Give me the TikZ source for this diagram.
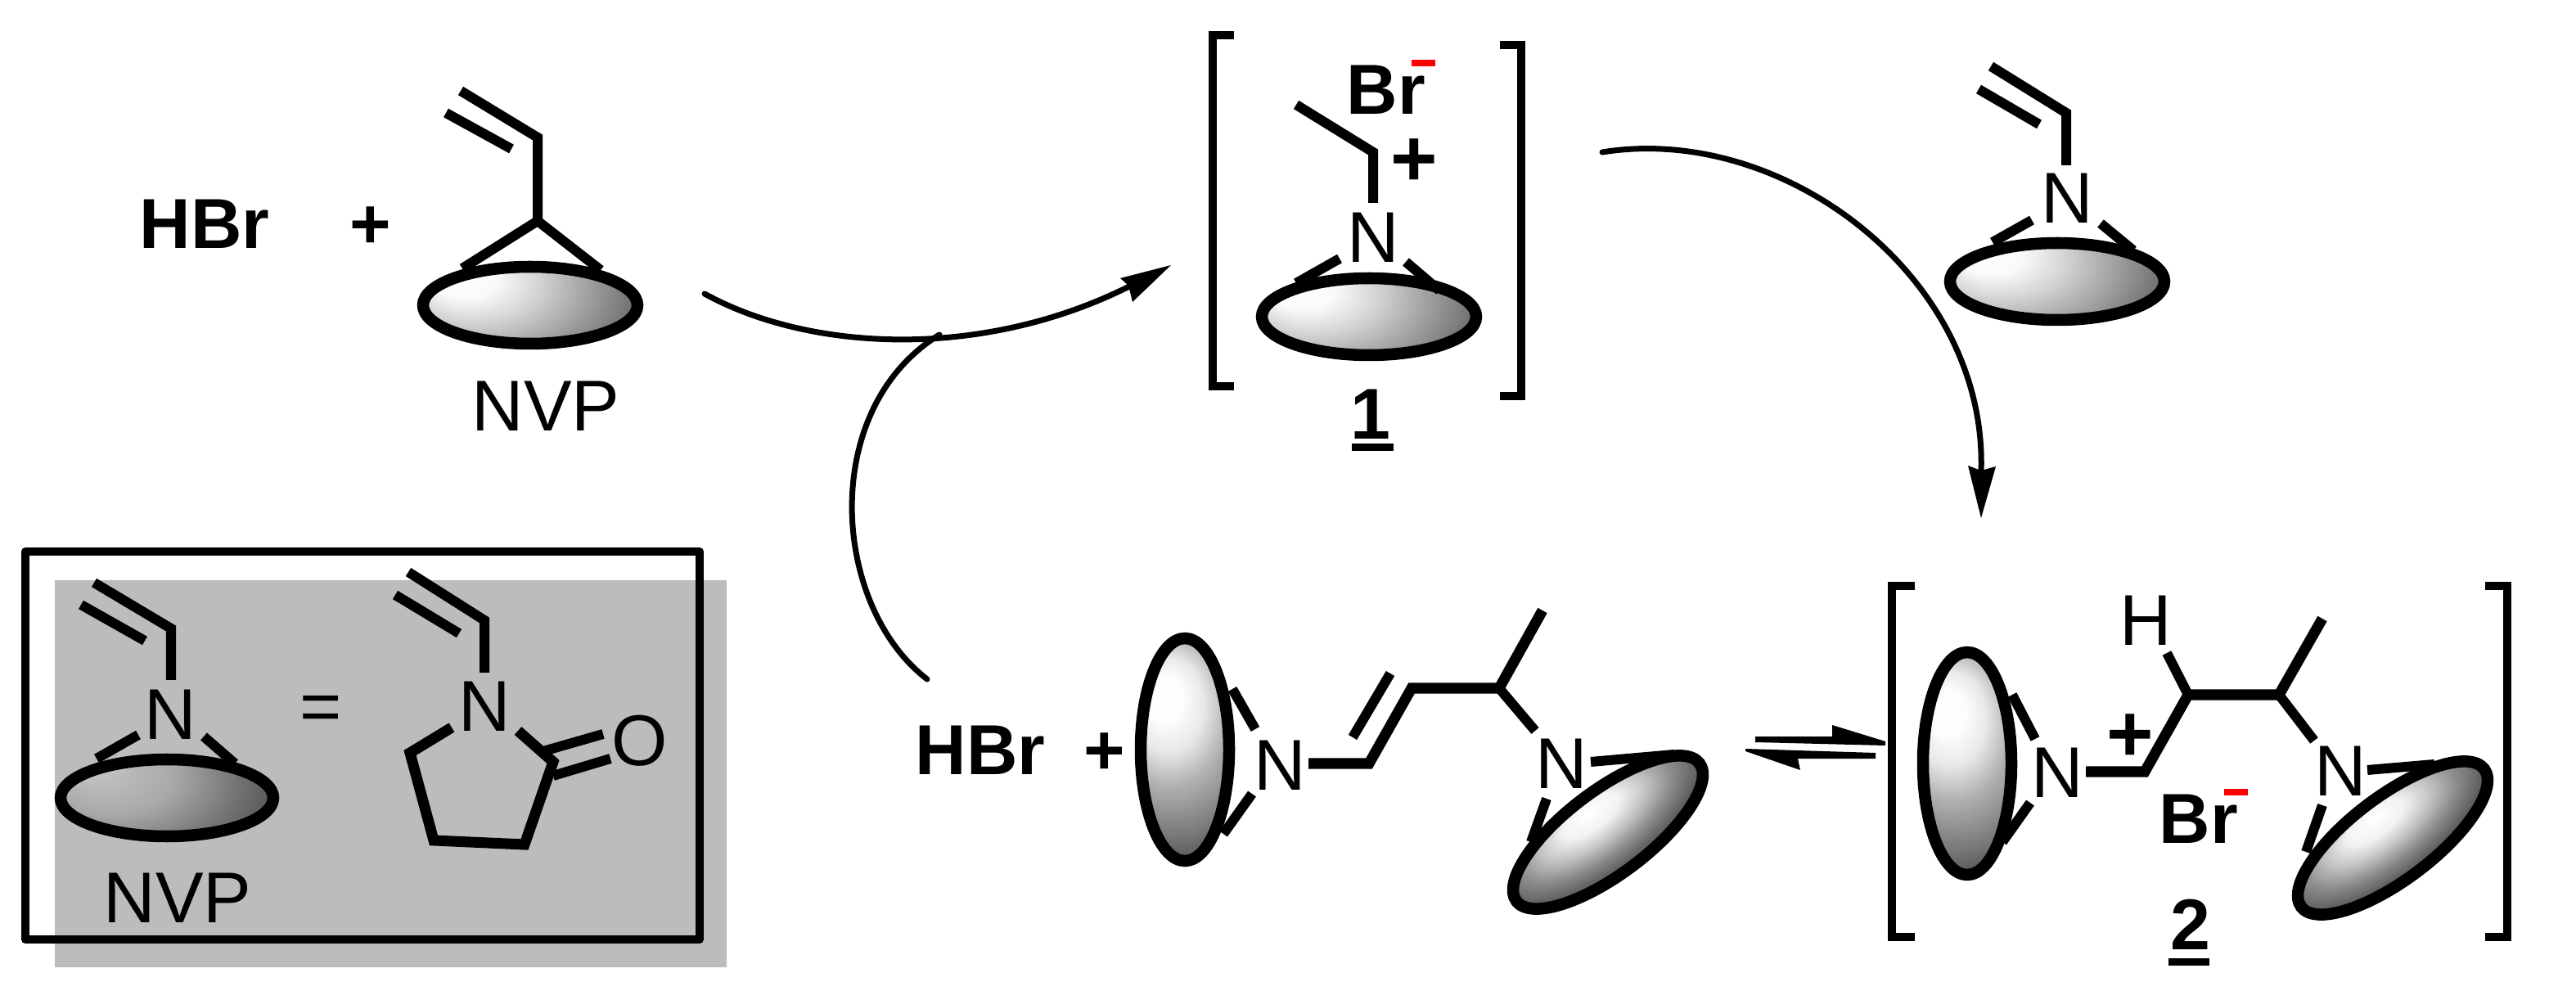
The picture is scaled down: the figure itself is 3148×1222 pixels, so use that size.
\documentclass[tikz,border=0pt]{standalone}
\usepackage{fontspec}
\setmainfont{Liberation Sans}
\newcommand{\pxfont}[1]{\fontsize{#1}{#1}\selectfont}
\definecolor{dither}{HTML}{BCBCBC}
\pgfdeclareradialshading{blobh}{\pgfpoint{-17bp}{11bp}}{color(0bp)=(white); color(7bp)=(white!98!black); color(14bp)=(white!83!black); color(25bp)=(white!56!black); color(33bp)=(white!36!black); color(39bp)=(white!17!black); color(50bp)=(white!12!black)}
\pgfdeclareradialshading{blobv}{\pgfpoint{-6bp}{12bp}}{color(0bp)=(white); color(5bp)=(white!99!black); color(10bp)=(white!91!black); color(16bp)=(white!69!black); color(24bp)=(white!48!black); color(31bp)=(white!28!black); color(36bp)=(white!17!black); color(50bp)=(white!12!black)}
\pgfdeclareradialshading{blobt}{\pgfpoint{-1bp}{14bp}}{color(0bp)=(white); color(7bp)=(white!95!black); color(13bp)=(white!76!black); color(19bp)=(white!54!black); color(26bp)=(white!33!black); color(32bp)=(white!18!black); color(50bp)=(white!12!black)}
\pgfdeclareradialshading{blobg}{\pgfpoint{-17bp}{11bp}}{color(0bp)=(white!78!black); color(14bp)=(white!66!black); color(25bp)=(white!44!black); color(33bp)=(white!30!black); color(39bp)=(white!17!black); color(50bp)=(white!12!black)}
% centre x, centre y, semi-axis a, semi-axis b (centreline, px), angle, shading, rectangle factors x and y
\newcommand{\blob}[8]{%
  \begin{scope}[transform canvas={shift={(#1,#2)},rotate=#5}]
    \begin{scope}
      \clip (0,0) ellipse [x radius=#3*0.01cm, y radius=#4*0.01cm];
      \shade[shading=#6] (-#7*#3,-#8*#4) rectangle (#7*#3,#8*#4);
    \end{scope}
    \draw[blobrim] (0,0) ellipse [x radius=#3*0.01cm, y radius=#4*0.01cm];
  \end{scope}}
\tikzset{
  bond/.style={line width=0.12cm, line cap=butt, line join=miter},
  chain/.style={line width=0.13cm, line cap=butt, line join=miter},
  blobrim/.style={line width=0.145cm},
  bracket/.style={line width=0.095cm, line join=miter},
  curved/.style={line width=0.07cm, line cap=round},
  atom/.style={inner sep=0pt, anchor=base, font=\pxfont{25}},
  boldatom/.style={inner sep=0pt, anchor=base, font=\pxfont{24.6}\bfseries},
  bigplus/.style={inner sep=0pt, anchor=base, font=\pxfont{28}\bfseries},
  numeral/.style={inner sep=0pt, anchor=base, font=\pxfont{25}\bfseries},
}
\begin{document}
\begin{tikzpicture}[x=0.01cm,y=-0.01cm]
\useasboundingbox (0,0) rectangle (3148,1222);
\fill[white] (0,0) rectangle (3148,1222);

% inset
\fill[dither] (67,709) rectangle (888,1182);
\draw[line width=0.10cm, line join=round] (31,674) rectangle (855,1148);
\blob{204}{975}{130}{47}{0}{blobg}{1.06}{1.83}
\draw[bond] (115,712) -- (209,768) -- (209,831);
\draw[bond] (99,739) -- (177,783);
\draw[bond] (169,898) -- (118,927);
\draw[bond] (249,900) -- (287,933);
\node[atom] (nA) at (208,903) {N};
\node[atom] (nvpA) at (217,1127) {NVP};
\node[atom] (eq) at (392,893) {=};
\draw[bond] (499,699) -- (592,758) -- (592,822);
\draw[bond] (483,727) -- (561,774);
\node[atom] (nB) at (592,893) {N};
\draw[chain] (552,889) -- (501,920) -- (530,1027) -- (641,1032) -- (676,931) -- (633,893);
\draw[bond] (737,897) -- (664,918);
\draw[bond] (746,927) -- (676,948);
\node[atom] (oA) at (782,935) {O};

% top left
\node[boldatom] (hbrA) at (250,304) {HBr};
\node[boldatom] (plusA) at (453,304) {+};
\blob{648}{373}{131}{47}{0}{blobh}{1.06}{1.83}
\draw[bond] (563,111) -- (657,168) -- (657,270) (565,328) -- (657,270) -- (734,330);
\draw[bond] (545,138) -- (625,182);
\node[atom] (nvpB) at (667,527) {NVP};

% arrow 1
\coordinate (a1s) at (861,359);
\coordinate (a1e) at (1380,350);
\draw[curved] (a1s) .. controls (990,430) and (1200,440) .. (a1e);
\fill (1431,324) -- (1369,340) -- (1379,349) -- (1384,369) -- cycle;

% feedback arc
\coordinate (a2s) at (1133,830);
\coordinate (a2e) at (1148,409);
\draw[curved] (a2s) .. controls (1016,740) and (1000,500) .. (a2e);

% species 1
\draw[bracket] (1508,43) -- (1482,43) -- (1482,472) -- (1508,472);
\draw[bracket] (1833,55) -- (1859,55) -- (1859,484) -- (1833,484);
\node[boldatom] (brA) at (1694,140) {Br};
\fill[red] (1725,73) rectangle (1754,81);
\draw[bond] (1584,128) -- (1678,186) -- (1678,248);
\node[bigplus] (plusB) at (1728,228) {+};
\node[atom] (nC) at (1678,321) {N};
\blob{1673}{387}{131}{47}{0}{blobh}{1.06}{1.83}
\draw[bond] (1637,316) -- (1584,346);
\draw[bond] (1718,320) -- (1759,355);
\node[numeral] (one) at (1675,537) {1};
\fill (1652,542) rectangle (1703,551);

% arrow 3
\coordinate (a3s) at (1958,186);
\coordinate (a3e) at (2421,578);
\draw[curved] (a3s) .. controls (2180,150) and (2430,340) .. (a3e);
\fill (2421,633) -- (2405,569) -- (2421,575) -- (2439,570) -- cycle;

% top right NVP
\blob{2514}{344}{131}{47}{0}{blobh}{1.06}{1.83}
\draw[bond] (2433,81) -- (2525,138) -- (2525,202);
\draw[bond] (2418,109) -- (2492,152);
\node[atom] (nD) at (2526,273) {N};
\draw[bond] (2483,269) -- (2435,296);
\draw[bond] (2567,273) -- (2607,306);

% bottom middle
\node[boldatom] (hbrB) at (1198,946) {HBr};
\node[boldatom] (plusC) at (1350,946) {+};
\blob{1448}{916}{54}{136}{0}{blobv}{2.05}{1.06}
\draw[bond] (1506,842) -- (1534,891);
\draw[bond] (1530,970) -- (1495,1019);
\node[atom] (nE) at (1564,965) {N};
\draw[chain] (1599,933) -- (1673,933) -- (1725,841) -- (1832,841) -- (1885,746);
\draw[bond] (1832,841) -- (1876,893);
\draw[bond] (1653,901) -- (1699,823);
\node[atom] (nF) at (1908,963) {N};
\blob{1965}{1017}{140}{51}{37}{blobt}{1.06}{1.2}
\draw[bond] (1944,931) -- (2046,922);
\draw[bond] (1890,976) -- (1871,1029);

% equilibrium
\fill (2145,900) -- (2239,900) -- (2239,886) -- (2304,906) -- (2304,911) -- (2145,907) -- cycle;
\fill (2292,920) -- (2133,915) -- (2133,918) -- (2200,941) -- (2197,927) -- (2292,927) -- cycle;

% species 2
\draw[bracket] (2340,716) -- (2312,716) -- (2312,1145) -- (2340,1145);
\draw[bracket] (3037,716) -- (3064,716) -- (3064,1145) -- (3037,1145);
\blob{2404}{933}{54}{136}{0}{blobv}{2.05}{1.06}
\draw[bond] (2459,849) -- (2487,903);
\draw[bond] (2481,981) -- (2447,1029);
\node[atom] (nG) at (2514,974) {N};
\draw[chain] (2549,943) -- (2621,943) -- (2674,849) -- (2785,849) -- (2838,756);
\draw[bond] (2674,849) -- (2648,798);
\draw[bond] (2785,849) -- (2828,905);
\node[atom] (hA) at (2622,789) {H};
\node[bigplus] (plusD) at (2603,930) {+};
\node[boldatom] (brB) at (2687,1030) {Br};
\fill[red] (2718,964) rectangle (2747,972);
\node[atom] (nH) at (2860,972) {N};
\blob{2924}{1024}{140}{51}{37}{blobt}{1.06}{1.2}
\draw[bond] (2893,941) -- (2975,934);
\draw[bond] (2838,984) -- (2818,1041);
\node[numeral] (two) at (2677,1160) {2};
\fill (2650,1171) rectangle (2700,1180);
\end{tikzpicture}
\end{document}
